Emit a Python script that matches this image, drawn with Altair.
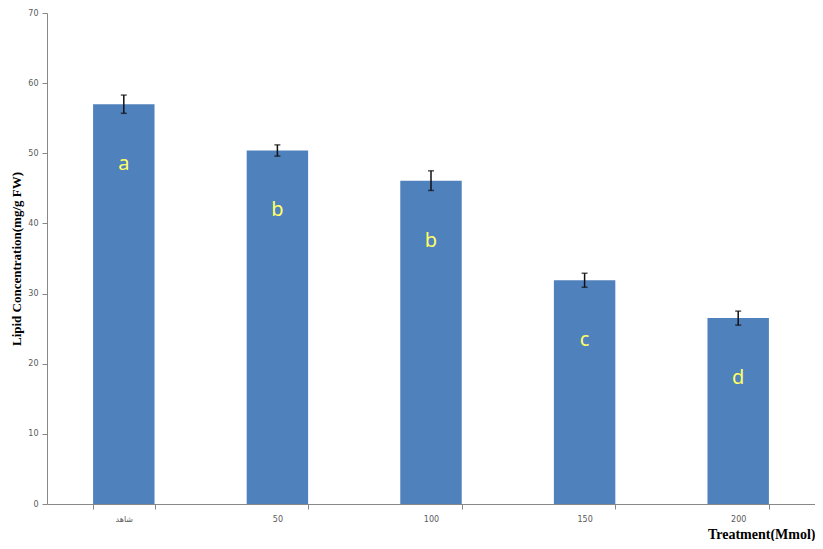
import altair as alt
import pandas as pd

categories = ["شاهد", "50", "100", "150", "200"]
values = [57.0, 50.4, 46.1, 31.9, 26.5]
errors = [1.3, 0.8, 1.4, 1.0, 1.0]
letters = ["a", "b", "b", "c", "d"]

df = pd.DataFrame({"cat": categories, "val": values, "err": errors, "let": letters})
df["lo"] = df["val"] - df["err"]
df["hi"] = df["val"] + df["err"]

xenc = alt.X(
    "cat:N",
    sort=categories,
    scale=alt.Scale(paddingInner=0.6, paddingOuter=0.3),
    axis=alt.Axis(
        title="Treatment(Mmol)",
        titleAnchor="end",
        titleFont="Liberation Serif",
        titleFontSize=14,
        titleFontWeight="bold",
        titleColor="#000000",
        titleBaseline="alphabetic",
        titleY=34,
        labelAngle=0,
        labelFont="DejaVu Sans",
        labelFontSize=8,
        labelColor="#595959",
        labelPadding=6,
        tickBand="extent",
        tickSize=5,
        tickColor="#888888",
        domainColor="#888888",
        grid=False,
    ),
)

yscale = alt.Scale(domain=[0, 70], nice=False)
yaxis = alt.Axis(
    title="Lipid Concentration(mg/g FW)",
    titleFont="Liberation Serif",
    titleFontSize=13,
    titleFontWeight="bold",
    titleColor="#000000",
    titlePadding=4,
    values=[0, 10, 20, 30, 40, 50, 60, 70],
    labelFont="DejaVu Sans",
    labelFontSize=8,
    labelColor="#595959",
    labelPadding=4,
    tickSize=5,
    tickColor="#888888",
    domainColor="#888888",
    grid=False,
)

base = alt.Chart(df)

bars = base.mark_bar(color="#4F81BD").encode(
    x=xenc,
    y=alt.Y("val:Q", scale=yscale, axis=yaxis),
)

xs = alt.X("cat:N", sort=categories)

rule = base.mark_rule(color="#111111", strokeWidth=1.5).encode(
    x=xs,
    y="lo:Q",
    y2="hi:Q",
)

cap_hi = base.mark_tick(color="#111111", thickness=1.5, size=6, orient="horizontal").encode(
    x=xs,
    y="hi:Q",
)
cap_lo = base.mark_tick(color="#111111", thickness=1.5, size=6, orient="horizontal").encode(
    x=xs,
    y="lo:Q",
)

text = base.mark_text(
    color="#FFFF66", fontSize=20, font="Noto Sans", dy=60, baseline="middle"
).encode(
    x=xs,
    y="val:Q",
    text="let:N",
)

chart = (
    alt.layer(bars, rule, cap_hi, cap_lo, text)
    .properties(
        width=768,
        height=491,
        background="#FFFFFF",
        autosize=alt.AutoSizeParams(type="none"),
        padding={"left": 39, "top": 5, "right": 0, "bottom": 37},
    )
    .configure_view(strokeWidth=0)
    .configure_axis(grid=False)
)

chart.save("out.html", embed_options={"renderer": "svg", "actions": False})
